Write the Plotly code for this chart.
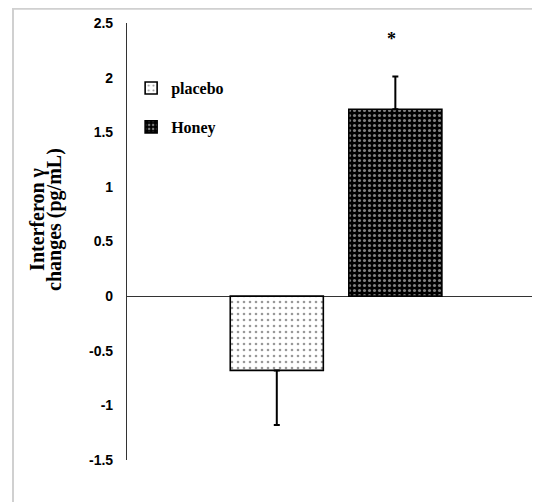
import plotly.graph_objects as go

# ---- data ----
groups = ["placebo", "Honey"]
category = ["Interferon γ"]
means = [-0.68, 1.71]
err_plus = [0.0, 0.30]
err_minus = [0.50, 0.0]
y_ticks = [-1.5, -1, -0.5, 0, 0.5, 1, 1.5, 2, 2.5]
y_tick_text = ["-1.5", "-1", "-0.5", "0", "0.5", "1", "1.5", "2", "2.5"]
title_lines = ["Interferon γ", "changes (pg/mL)"]
star_value = 2.35

patterns = [
    dict(shape=".", fgcolor="#333333", bgcolor="white", size=6, solidity=0.15),
    dict(shape=".", fgcolor="white", bgcolor="black", size=5, solidity=0.3),
]

fig = go.Figure()
legends = ["legend", "legend2"]
for i, g in enumerate(groups):
    fig.add_trace(go.Bar(
        name=g,
        x=category,
        y=[means[i]],
        marker=dict(color="white", pattern=patterns[i],
                    line=dict(color="black", width=1.6)),
        error_y=dict(type="data", symmetric=False,
                     array=[err_plus[i]], arrayminus=[err_minus[i]],
                     color="black", thickness=2, width=3),
        legend=legends[i],
    ))

fig.add_annotation(x=category[0], y=star_value, xref="x", yref="y",
                   text="<b>*</b>", showarrow=False, xshift=55,
                   font=dict(family="Liberation Serif", size=18, color="black"))

title_x = [-0.249, -0.210]
for tx, line in zip(title_x, title_lines):
    fig.add_annotation(x=tx, y=0.551, xref="paper", yref="paper",
                       text="<b>" + line + "</b>", textangle=-90,
                       showarrow=False,
                       font=dict(family="Liberation Serif", size=20, color="black"))

# outer light border
fig.add_shape(type="rect", xref="paper", yref="paper",
              x0=-0.276, x1=1.1, y0=-0.3, y1=1.0325,
              line=dict(color="#d0d0d0", width=2))

leg_font = dict(family="Liberation Serif", size=16, color="black", weight="bold")
fig.update_layout(
    width=532, height=494,
    margin=dict(l=119, r=0, t=15, b=42),
    paper_bgcolor="white", plot_bgcolor="white",
    barmode="group", bargap=0.4, bargroupgap=0.215,
    showlegend=True,
    legend=dict(x=0.01, y=0.851, xanchor="left", yanchor="middle",
                font=leg_font, bgcolor="rgba(0,0,0,0)", borderwidth=0),
    legend2=dict(x=0.01, y=0.762, xanchor="left", yanchor="middle",
                 font=leg_font, bgcolor="rgba(0,0,0,0)", borderwidth=0),
    xaxis=dict(range=[-0.529, 0.516], showticklabels=False, showline=False,
               showgrid=False, zeroline=False, ticks=""),
    yaxis=dict(range=[-1.5, 2.5], tickvals=y_ticks, ticktext=y_tick_text,
               showline=True, linecolor="#333333", linewidth=1.2,
               showgrid=False, zeroline=True, zerolinecolor="#333333",
               zerolinewidth=1.2, ticks="", ticklabelstandoff=10,
               tickfont=dict(family="Liberation Sans", size=14,
                             color="black", weight="bold")),
)

fig.write_html("out.html")
